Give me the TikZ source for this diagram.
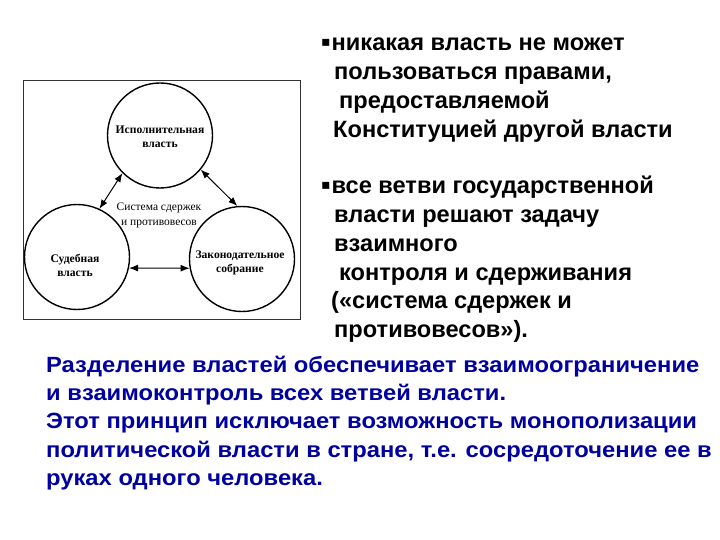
\documentclass[tikz,border=0pt]{standalone}
\usepackage{fontspec}
\setmainfont{Liberation Sans}
\newfontfamily\serifb{Liberation Serif}
\newfontfamily\dejavu{DejaVu Sans}
\newfontfamily\bluef{Liberation Sans}[FakeStretch=1.08]
\newcommand\bulmark{\raisebox{4pt}{\dejavu\mdseries\fontsize{14}{14}\selectfont ▪}\hspace{1pt}}
\usetikzlibrary{arrows.meta}
\definecolor{darkblue}{RGB}{0,0,160}
\begin{document}
\begin{tikzpicture}[x=1pt,y=-1pt,
 circ/.style={circle, draw, line width=1.4pt, minimum size=105pt, inner sep=0pt},
 lab/.style={font=\serifb\bfseries\fontsize{11.6}{14}\selectfont, align=center, inner sep=0pt},
 dbl/.style={{Latex[length=9pt,width=7pt]}-{Latex[length=9pt,width=7pt]}, line width=1pt},
 rt/.style={anchor=base west, inner sep=0pt, font=\bfseries\fontsize{23.6}{28}\selectfont},
 bt/.style={anchor=base west, inner sep=0pt, text=darkblue, font=\bluef\bfseries\fontsize{22}{28}\selectfont}]
\useasboundingbox[fill=white] (0,0) rectangle (720,540);
% frame
\draw[line width=0.9pt, draw=black!80] (23,80) rectangle (300,319);
% circles
\node[circ] (T) at (160,135.5) {};
\node[circ] (L) at (77,257) {};
\node[circ] (R) at (242,259) {};
\node[lab] (Tl) at (160,137) {Исполнительная\\власть};
\node[lab] (Ll) at (75,265) {Судебная\\власть};
\node[lab] (Rl) at (240,263) {Законодательное\\собрание};
\node[font=\serifb\fontsize{11.5}{15}\selectfont, align=center, inner sep=0pt] (C) at (159,215) {Система сдержек\\и противовесов};
\draw[dbl] (T.-135) -- (L.65);
\draw[dbl] (T.-40) -- (R.95);
\draw[dbl] (L.-12) -- (R.190);
% right text
\node[rt] (r1) at (321,51) {\bulmark никакая власть не может};
\node[rt] (r2) at (334,79.7) {пользоваться правами,};
\node[rt] (r3) at (339,108.4) {предоставляемой};
\node[rt] (r4) at (333,137.1) {Конституцией другой власти};
\node[rt] (r5) at (321,194) {\bulmark все ветви государственной};
\node[rt] (r6) at (334,222.7) {власти решают задачу};
\node[rt] (r7) at (334,251.4) {взаимного};
\node[rt] (r8) at (339,280.1) {контроля и сдерживания};
\node[rt] (r9) at (331,308.8) {(«система сдержек и};
\node[rt] (r10) at (334,337.5) {противовесов»).};
% blue text
\node[bt] (b1) at (46,372) {Разделение властей обеспечивает взаимоограничение};
\node[bt] (b2) at (46,400) {и взаимоконтроль всех ветвей власти.};
\node[bt] (b3) at (46,428.5) {Этот принцип исключает возможность монополизации};
\node[bt] (b4) at (46,457) {политической власти в стране, т.е. сосредоточение ее в};
\node[bt] (b5) at (46,485) {руках одного человека.};
\end{tikzpicture}
\end{document}
